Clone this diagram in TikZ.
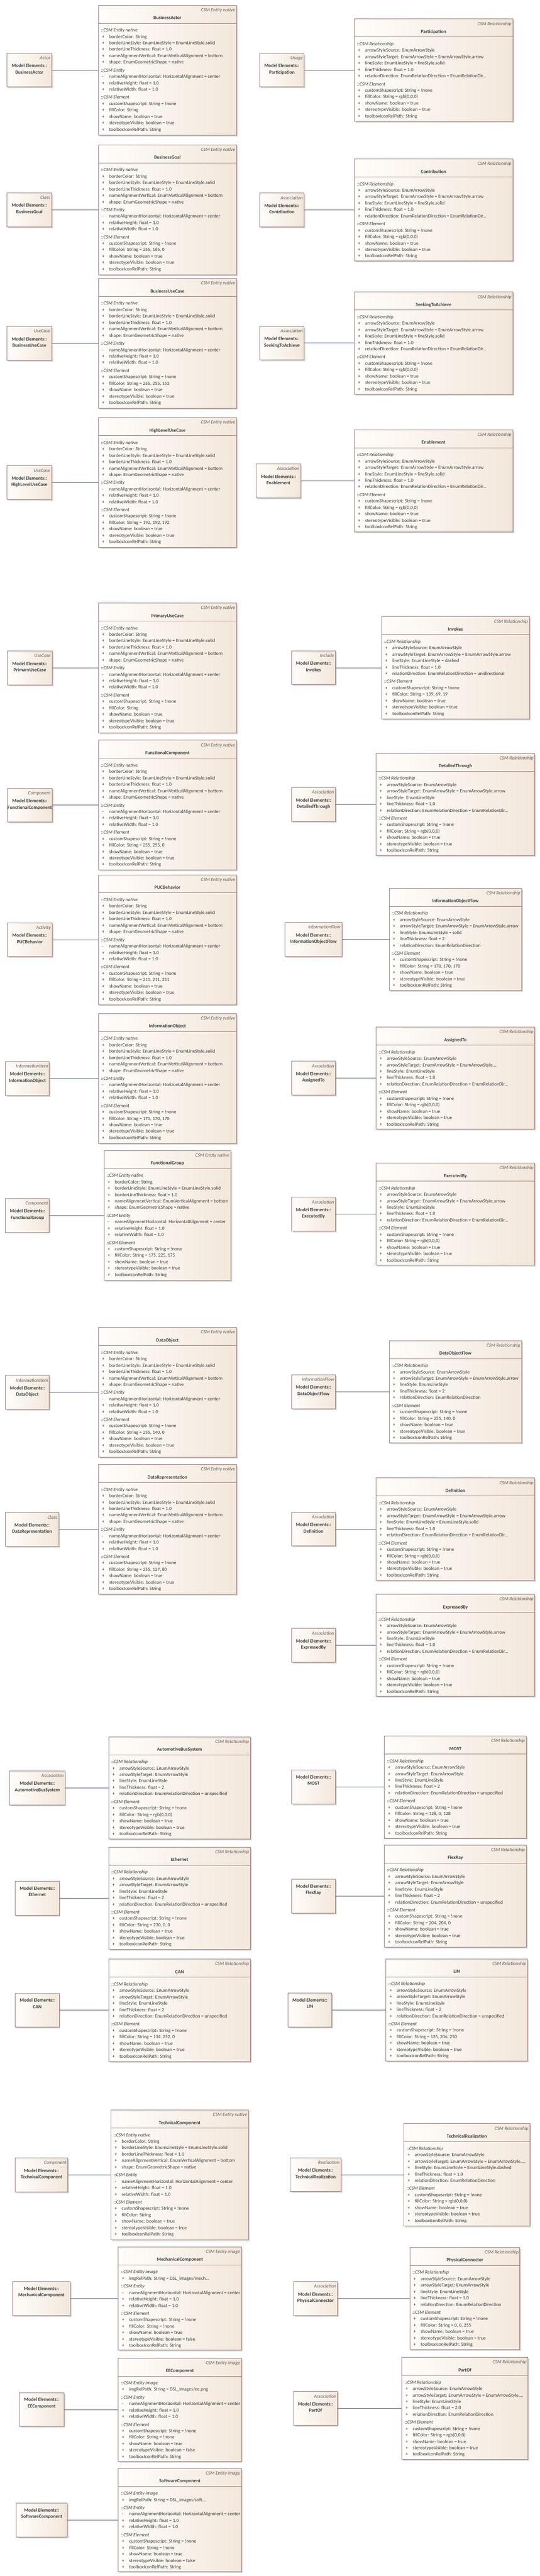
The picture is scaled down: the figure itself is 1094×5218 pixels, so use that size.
\documentclass[tikz,border=0pt]{standalone}
\usepackage{fontspec}
\setmainfont{Carlito}
\usetikzlibrary{calc,shadows}

\definecolor{eaborder}{RGB}{158,128,128}
\definecolor{ealeft}{RGB}{255,253,250}
\definecolor{earight}{RGB}{243,231,219}
\definecolor{eashadow}{RGB}{210,210,210}
\definecolor{eatext}{RGB}{60,60,60}
\definecolor{eastereo}{RGB}{96,96,96}
\definecolor{eaconn}{RGB}{88,100,130}

\tikzset{
  clsbox/.style={anchor=north west, draw=eaborder, line width=0.75pt,
    left color=ealeft, right color=earight, inner sep=0pt,
    general shadow={fill=eashadow, shadow xshift=1.9pt, shadow yshift=-1.9pt}},
  elembox/.style={clsbox, anchor=west, minimum height=51.4pt},
  txt/.style={inner sep=0pt, text=eatext, font=\fontsize{7.3}{9.75}\selectfont},
  stereo/.style={txt, text=eastereo, font=\fontsize{7.3}{9.75}\selectfont\itshape},
  ttl/.style={txt, align=center, font=\fontsize{7.3}{9.75}\selectfont\bfseries},
  body/.style={txt, align=left},
  assoc/.style={draw=eaconn, line width=0.75pt}
}

% attribute lines
\newcommand{\csmsec}[1]{\textit{::#1}}
\newcommand{\attrp}[1]{\makebox[12.4pt][l]{\hspace{1.5pt}+}#1}
\newcommand{\attrm}[1]{\makebox[12.4pt][l]{\hspace{1.5pt}-}#1}

\newcommand{\nativebody}[1]{\rule{0pt}{7.5pt}\csmsec{CSM Entity native}\\
\attrp{borderColor: String}\\
\attrp{borderLineStyle: EnumLineStyle = EnumLineStyle.solid}\\
\attrp{borderLineThickness: float = 1.0}\\
\attrp{nameAlignmentVertical: EnumVerticalAlignment = bottom}\\
\attrp{shape: EnumGeometricShape = native}\\[2.25pt]
\csmsec{CSM Entity}\\
\attrm{nameAlignmentHorizontal: HorizontalAlignment = center}\\
\attrp{relativeHeight: float = 1.0}\\
\attrp{relativeWidth: float = 1.0}\\[2.25pt]
\csmsec{CSM Element}\\
\attrp{customShapescript: String = !none}\\
\attrp{fillColor: String#1}\\
\attrp{showName: boolean = true}\\
\attrp{stereotypeVisible: boolean = true}\\
\attrp{toolboxIconRelPath: String}}

\newcommand{\relbody}[5]{\rule{0pt}{7.5pt}\csmsec{CSM Relationship}\\
\attrp{arrowStyleSource: EnumArrowStyle}\\
\attrp{arrowStyleTarget: EnumArrowStyle#1}\\
\attrp{lineStyle: EnumLineStyle#2}\\
\attrp{lineThickness: float = #3}\\
\attrp{relationDirection: EnumRelationDirection#4}\\[2.25pt]
\csmsec{CSM Element}\\
\attrp{customShapescript: String = !none}\\
\attrp{fillColor: String = #5}\\
\attrp{showName: boolean = true}\\
\attrp{stereotypeVisible: boolean = true}\\
\attrp{toolboxIconRelPath: String}}

\newcommand{\imgbody}[1]{\rule{0pt}{7.5pt}\csmsec{CSM Entity image}\\
\attrp{imgRelPath: String = #1}\\[2.25pt]
\csmsec{CSM Entity}\\
\attrm{nameAlignmentHorizontal: HorizontalAlignment = center}\\
\attrp{relativeHeight: float = 1.0}\\
\attrp{relativeWidth: float = 1.0}\\[2.25pt]
\csmsec{CSM Element}\\
\attrp{customShapescript: String = !none}\\
\attrp{fillColor: String = !none}\\
\attrp{showName: boolean = true}\\
\attrp{stereotypeVisible: boolean = false}\\
\attrp{toolboxIconRelPath: String}}

% #1 node, #2 left, #3 top, #4 right, #5 height, #6 stereotype, #7 title, #8 body
\newcommand{\cls}[8]{%
  \node[clsbox, minimum width={(#4-#2)*0.75pt}, minimum height={#5*0.75pt}] (#1) at (#2,#3) {};
  \draw[eaborder, line width=0.75pt] ($(#1.north west)+(0,37)$) -- ($(#1.north east)+(0,37)$);
  \node[stereo, anchor=north east] at ($(#1.north east)+(-3,3)$) {\rule{0pt}{7.5pt}#6};
  \node[ttl, anchor=north] at ($(#1.north)+(0,19)$) {\rule{0pt}{7.5pt}#7};
  \node[body, anchor=north west] at ($(#1.north west)+(5.5,44)$) {#8};
}

% #1 node, #2 left, #3 right, #4 class node, #5 stereotype, #6 element
\newcommand{\elem}[6]{%
  \node[elembox, minimum width={(#3-#2)*0.75pt}] (#1) at (#2,0 |- #4.west) {};
  \ifx\relax#5\relax
    \node[ttl, anchor=north] at ($(#1.north)+(0,7.5)$) {\rule{0pt}{7.5pt}Model Elements::\\#6};
  \else
    \node[stereo, anchor=north east] at ($(#1.north east)+(-3,3)$) {\rule{0pt}{7.5pt}#5};
    \node[ttl, anchor=north] at ($(#1.north)+(0,19)$) {\rule{0pt}{7.5pt}Model Elements::\\#6};
  \fi
  \draw[assoc] (#1) -- (#4);
}

\begin{document}
\begin{tikzpicture}[x=0.75pt, y=-0.75pt]
\useasboundingbox (0,0) rectangle (1094,5218);

% left column
\cls{BusinessActor}{199}{10}{479}{263}{CSM Entity native}{BusinessActor}{\nativebody{}}
\elem{meBusinessActor}{14}{104}{BusinessActor}{Actor}{BusinessActor}
\cls{BusinessGoal}{199}{293}{479}{263}{CSM Entity native}{BusinessGoal}{\nativebody{ = 255, 165, 0}}
\elem{meBusinessGoal}{14}{104}{BusinessGoal}{Class}{BusinessGoal}
\cls{BusinessUseCase}{199}{563.5}{479}{263}{CSM Entity native}{BusinessUseCase}{\nativebody{ = 255, 255, 153}}
\elem{meBusinessUseCase}{14}{104}{BusinessUseCase}{UseCase}{BusinessUseCase}
\cls{HighLevelUseCase}{199}{845.5}{479}{263}{CSM Entity native}{HighLevelUseCase}{\nativebody{ = 192, 192, 192}}
\elem{meHighLevelUseCase}{14}{104}{HighLevelUseCase}{UseCase}{HighLevelUseCase}
\cls{PrimaryUseCase}{199}{1221}{479}{263}{CSM Entity native}{PrimaryUseCase}{\nativebody{}}
\elem{mePrimaryUseCase}{15}{105}{PrimaryUseCase}{UseCase}{PrimaryUseCase}
\cls{FunctionalComponent}{199}{1499}{479}{263}{CSM Entity native}{FunctionalComponent}{\nativebody{ = 255, 255, 0}}
\elem{meFunctionalComponent}{15}{105}{FunctionalComponent}{Component}{FunctionalComponent}
\cls{PUCBehavior}{199}{1771.5}{479}{263}{CSM Entity native}{PUCBehavior}{\nativebody{ = 211, 211, 211}}
\elem{mePUCBehavior}{15}{105}{PUCBehavior}{Activity}{PUCBehavior}
\cls{InformationObject}{199}{2052.5}{479}{263}{CSM Entity native}{InformationObject}{\nativebody{ = 170, 170, 170}}
\elem{meInformationObject}{10.5}{99.5}{InformationObject}{InformationItem}{InformationObject}
\cls{FunctionalGroup}{210.5}{2330}{467.5}{263}{CSM Entity native}{FunctionalGroup}{\nativebody{ = 175, 225, 175}}
\elem{meFunctionalGroup}{10.5}{99.5}{FunctionalGroup}{Component}{FunctionalGroup}
\cls{DataObject}{199}{2688.5}{479}{263}{CSM Entity native}{DataObject}{\nativebody{ = 255, 140, 0}}
\elem{meDataObject}{10.5}{99.5}{DataObject}{InformationItem}{DataObject}
\cls{DataRepresentation}{199}{2966}{479}{263}{CSM Entity native}{DataRepresentation}{\nativebody{ = 255, 127, 80}}
\elem{meDataRepresentation}{10.5}{118.5}{DataRepresentation}{Class}{DataRepresentation}
\cls{AutomotiveBusSystem}{220}{3517.5}{507}{207}{CSM Relationship}{AutomotiveBusSystem}{\relbody{}{}{2}{ = unspecified}{rgb(0,0,0)}}
\elem{meAutomotiveBusSystem}{19}{131}{AutomotiveBusSystem}{Association}{AutomotiveBusSystem}
\cls{Ethernet}{220}{3741}{507}{207}{CSM Relationship}{Ethernet}{\relbody{}{}{2}{ = unspecified}{230, 0, 0}}
\elem{meEthernet}{30.5}{119.5}{Ethernet}{}{Ethernet}
\cls{CAN}{220}{3968}{507}{207}{CSM Relationship}{CAN}{\relbody{}{}{2}{ = unspecified}{134, 252, 0}}
\elem{meCAN}{30.5}{119.5}{CAN}{}{CAN}
\cls{TechnicalComponent}{224.5}{4273.5}{503}{263}{CSM Entity native}{TechnicalComponent}{\nativebody{}}
\elem{meTechnicalComponent}{30.5}{137}{TechnicalComponent}{Component}{TechnicalComponent}
\cls{MechanicalComponent}{239.5}{4551}{489}{209}{CSM Entity image}{MechanicalComponent}{\imgbody{DSL\_images/mech...}}
\elem{meMechanicalComponent}{25}{142}{MechanicalComponent}{}{MechanicalComponent}
\cls{EEComponent}{239.5}{4776}{489}{209}{CSM Entity image}{EEComponent}{\imgbody{DSL\_images/ee.png}}
\elem{meEEComponent}{39}{129}{EEComponent}{}{EEComponent}
\cls{SoftwareComponent}{239.5}{4999.5}{489}{209}{CSM Entity image}{SoftwareComponent}{\imgbody{DSL\_images/soft...}}
\elem{meSoftwareComponent}{32}{136}{SoftwareComponent}{}{SoftwareComponent}

% right column
\cls{Participation}{718}{38}{1039}{207}{CSM Relationship}{Participation}{\relbody{ = EnumArrowStyle.arrow}{ = lineStyle.solid}{1.0}{ = EnumRelationDir...}{rgb(0,0,0)}}
\elem{meParticipation}{526}{616}{Participation}{Usage}{Participation}
\cls{Contribution}{718}{321.5}{1039}{207}{CSM Relationship}{Contribution}{\relbody{ = EnumArrowStyle.arrow}{ = lineStyle.solid}{1.0}{ = EnumRelationDir...}{rgb(0,0,0)}}
\elem{meContribution}{526}{616}{Contribution}{Association}{Contribution}
\cls{SeekingToAchieve}{718}{591}{1039}{207}{CSM Relationship}{SeekingToAchieve}{\relbody{ = EnumArrowStyle.arrow}{ = lineStyle.solid}{1.0}{ = EnumRelationDir...}{rgb(0,0,0)}}
\elem{meSeekingToAchieve}{526}{616}{SeekingToAchieve}{Association}{SeekingToAchieve}
\cls{Enablement}{718}{870}{1039}{207}{CSM Relationship}{Enablement}{\relbody{ = EnumArrowStyle.arrow}{ = lineStyle.solid}{1.0}{ = EnumRelationDir...}{rgb(0,0,0)}}
\elem{meEnablement}{519}{609}{Enablement}{Association}{Enablement}
\cls{Invokes}{773}{1248.5}{1072.5}{207}{CSM Relationship}{Invokes}{\relbody{ = EnumArrowStyle.arrow}{ = dashed}{1.0}{ = unidirectional}{139, 69, 19}}
\elem{meInvokes}{590.5}{679.5}{Invokes}{Include}{Invokes}
\cls{DetailedThrough}{762}{1525.5}{1083.5}{207}{CSM Relationship}{DetailedThrough}{\relbody{ = EnumArrowStyle.arrow}{}{1.0}{ = EnumRelationDir...}{rgb(0,0,0)}}
\elem{meDetailedThrough}{590.5}{679.5}{DetailedThrough}{Association}{DetailedThrough}
\cls{InformationObjectFlow}{788.5}{1799}{1057}{207}{CSM Relationship}{InformationObjectFlow}{\relbody{ = EnumArrowStyle.arrow}{ = solid}{2}{}{170, 170, 170}}
\elem{meInformationObjectFlow}{577.5}{692.5}{InformationObjectFlow}{InformationFlow}{InformationObjectFlow}
\cls{AssignedTo}{762}{2080}{1083.5}{207}{CSM Relationship}{AssignedTo}{\relbody{ = EnumArrowStyle....}{}{1.0}{ = EnumRelationDir...}{rgb(0,0,0)}}
\elem{meAssignedTo}{590.5}{679.5}{AssignedTo}{Association}{AssignedTo}
\cls{ExecutedBy}{762}{2355.5}{1083.5}{207}{CSM Relationship}{ExecutedBy}{\relbody{ = EnumArrowStyle.arrow}{}{1.0}{ = EnumRelationDir...}{rgb(0,0,0)}}
\elem{meExecutedBy}{590.5}{679.5}{ExecutedBy}{Association}{ExecutedBy}
\cls{DataObjectFlow}{788.5}{2715}{1057}{207}{CSM Relationship}{DataObjectFlow}{\relbody{ = EnumArrowStyle.arrow}{}{2}{}{255, 140, 0}}
\elem{meDataObjectFlow}{590.5}{679.5}{DataObjectFlow}{InformationFlow}{DataObjectFlow}
\cls{Definition}{762}{2993.5}{1083.5}{207}{CSM Relationship}{Definition}{\relbody{ = EnumArrowStyle.arrow}{ = EnumLineStyle.solid}{1.0}{ = EnumRelationDir...}{rgb(0,0,0)}}
\elem{meDefinition}{590.5}{679.5}{Definition}{Association}{Definition}
\cls{ExpressedBy}{762}{3229}{1083.5}{207}{CSM Relationship}{ExpressedBy}{\relbody{ = EnumArrowStyle.arrow}{}{1.0}{ = EnumRelationDir...}{rgb(0,0,0)}}
\elem{meExpressedBy}{590.5}{679.5}{ExpressedBy}{Association}{ExpressedBy}
\cls{MOST}{779}{3516}{1066.5}{207}{CSM Relationship}{MOST}{\relbody{}{}{2}{ = unspecified}{128, 0, 128}}
\elem{meMOST}{590.5}{679.5}{MOST}{}{MOST}
\cls{FlexRay}{779}{3737}{1066.5}{207}{CSM Relationship}{FlexRay}{\relbody{}{}{2}{ = unspecified}{204, 204, 0}}
\elem{meFlexRay}{590.5}{679.5}{FlexRay}{}{FlexRay}
\cls{LIN}{782}{3967.5}{1069}{207}{CSM Relationship}{LIN}{\relbody{}{}{2}{ = unspecified}{135, 206, 250}}
\elem{meLIN}{583.5}{672.5}{LIN}{}{LIN}
\cls{TechnicalRealization}{818.5}{4301}{1073.5}{207}{CSM Relationship}{TechnicalRealization}{\relbody{ = EnumArrowStyle....}{ = EnumLineStyle.dashed}{1.0}{}{rgb(0,0,0)}}
\elem{meTechnicalRealization}{588}{690.5}{TechnicalRealization}{Realization}{TechnicalRealization}
\cls{PhysicalConnector}{830.5}{4552}{1053.5}{207}{CSM Relationship}{PhysicalConnector}{\relbody{}{}{1.0}{}{0, 0, 255}}
\elem{mePhysicalConnector}{594.5}{684}{PhysicalConnector}{Association}{PhysicalConnector}
\cls{PartOf}{814.5}{4774.5}{1069.5}{207}{CSM Relationship}{PartOf}{\relbody{ = EnumArrowStyle....}{}{2.0}{}{rgb(0,0,0)}}
\elem{mePartOf}{594.5}{684}{PartOf}{Association}{PartOf}
\end{tikzpicture}
\end{document}
